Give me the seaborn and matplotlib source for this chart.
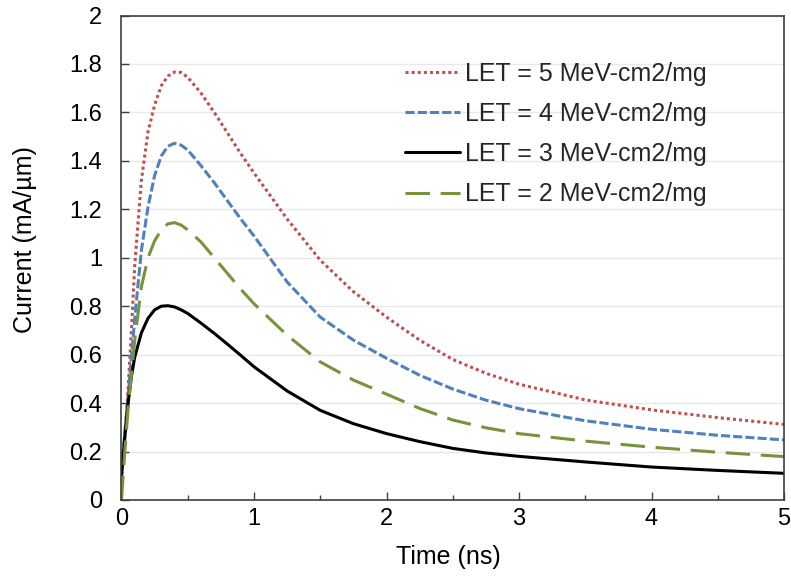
import numpy as np
import pandas as pd
import matplotlib
matplotlib.use("Agg")
import matplotlib.pyplot as plt
from matplotlib.ticker import MultipleLocator, FuncFormatter
import seaborn as sns

time_ns = [0, 0.025, 0.05, 0.075, 0.1, 0.15, 0.2, 0.25, 0.3, 0.35, 0.4, 0.45, 0.5,
           0.6, 0.7, 0.8, 0.9, 1.0, 1.25, 1.5, 1.75, 2.0, 2.25, 2.5, 2.75, 3.0,
           3.5, 4.0, 4.5, 5.0]

let5 = [0.08, 0.26, 0.46, 0.70, 0.97, 1.32, 1.52, 1.63, 1.71, 1.75, 1.767, 1.765, 1.745,
        1.68, 1.60, 1.515, 1.43, 1.35, 1.16, 0.99, 0.86, 0.755, 0.66, 0.58, 0.523, 0.478,
        0.413, 0.372, 0.34, 0.312]
let4 = [0.12, 0.28, 0.43, 0.59, 0.75, 1.03, 1.21, 1.34, 1.42, 1.46, 1.473, 1.465, 1.445,
        1.38, 1.31, 1.235, 1.16, 1.09, 0.90, 0.755, 0.66, 0.585, 0.515, 0.458, 0.412, 0.377,
        0.327, 0.292, 0.267, 0.248]
let3 = [0.10, 0.26, 0.40, 0.51, 0.59, 0.69, 0.75, 0.785, 0.80, 0.802, 0.797, 0.785, 0.77,
        0.73, 0.688, 0.643, 0.597, 0.55, 0.45, 0.37, 0.315, 0.274, 0.241, 0.213, 0.194, 0.18,
        0.157, 0.136, 0.122, 0.11]
let2 = [0.0, 0.20, 0.38, 0.52, 0.66, 0.88, 1.0, 1.07, 1.115, 1.14, 1.145, 1.135, 1.115,
        1.065, 1.0, 0.935, 0.87, 0.81, 0.68, 0.57, 0.495, 0.437, 0.378, 0.33, 0.298, 0.274,
        0.243, 0.218, 0.197, 0.179]

labels = ["LET = 5 MeV-cm2/mg", "LET = 4 MeV-cm2/mg", "LET = 3 MeV-cm2/mg", "LET = 2 MeV-cm2/mg"]
series = [let5, let4, let3, let2]
colors = ["#C0504D", "#4F81BD", "#000000", "#77933C"]
dashes = [(0, (1, 1)), (0, (3, 1)), "solid", (0, (8, 3.5))]

sns.set_theme(style="white")
plt.rcParams["font.family"] = ["Liberation Sans", "DejaVu Sans"]

fig = plt.figure(figsize=(7.91, 5.76), dpi=100)
ax = fig.add_axes([0.1536, 0.132, 0.8376, 0.841])

handles = []
for lab, vals, col, ls in zip(labels, series, colors, dashes):
    df = pd.DataFrame({"t": time_ns, "v": vals})
    sns.lineplot(data=df, x="t", y="v", ax=ax, color=col, linewidth=2.2, label=lab)
    line = ax.lines[-1]
    line.set_linestyle(ls)
    handles.append(line)

ax.set_xlim(0, 5)
ax.set_ylim(0, 2)
ax.xaxis.set_major_locator(MultipleLocator(1))
ax.xaxis.set_minor_locator(MultipleLocator(0.5))
ax.yaxis.set_major_locator(MultipleLocator(0.2))
ax.yaxis.set_major_formatter(FuncFormatter(lambda v, p: f"{v:g}"))

ax.grid(axis="y", color="#E8E8E8", linewidth=1)
ax.grid(axis="x", visible=False)
for s in ax.spines.values():
    s.set_visible(True)
    s.set_color("#404040")
    s.set_linewidth(1.2)

ax.tick_params(axis="both", which="major", direction="in", length=5.5, width=1,
               color="#404040", labelsize=17, labelcolor="#000000")
ax.tick_params(axis="x", which="minor", direction="in", length=3.6, width=1, color="#404040", bottom=True)
ax.tick_params(axis="x", which="major", bottom=True, pad=6)
ax.tick_params(axis="y", which="major", left=True, pad=14)

ax.set_xlabel("Time (ns)", fontsize=18, color="#000000")
ax.set_ylabel("Current (mA/µm)", fontsize=18, color="#000000")
ax.xaxis.set_label_coords(0.494, -0.093)
ax.yaxis.set_label_coords(-0.128, 0.537)

leg = ax.legend(handles=handles, labels=labels, loc="upper left",
                bbox_to_anchor=(0.428, 0.905), frameon=False, fontsize=18,
                handlelength=2.2, handletextpad=0.2, labelspacing=0.65,
                borderpad=0, borderaxespad=0)

fig.savefig("out.png", dpi=100)
